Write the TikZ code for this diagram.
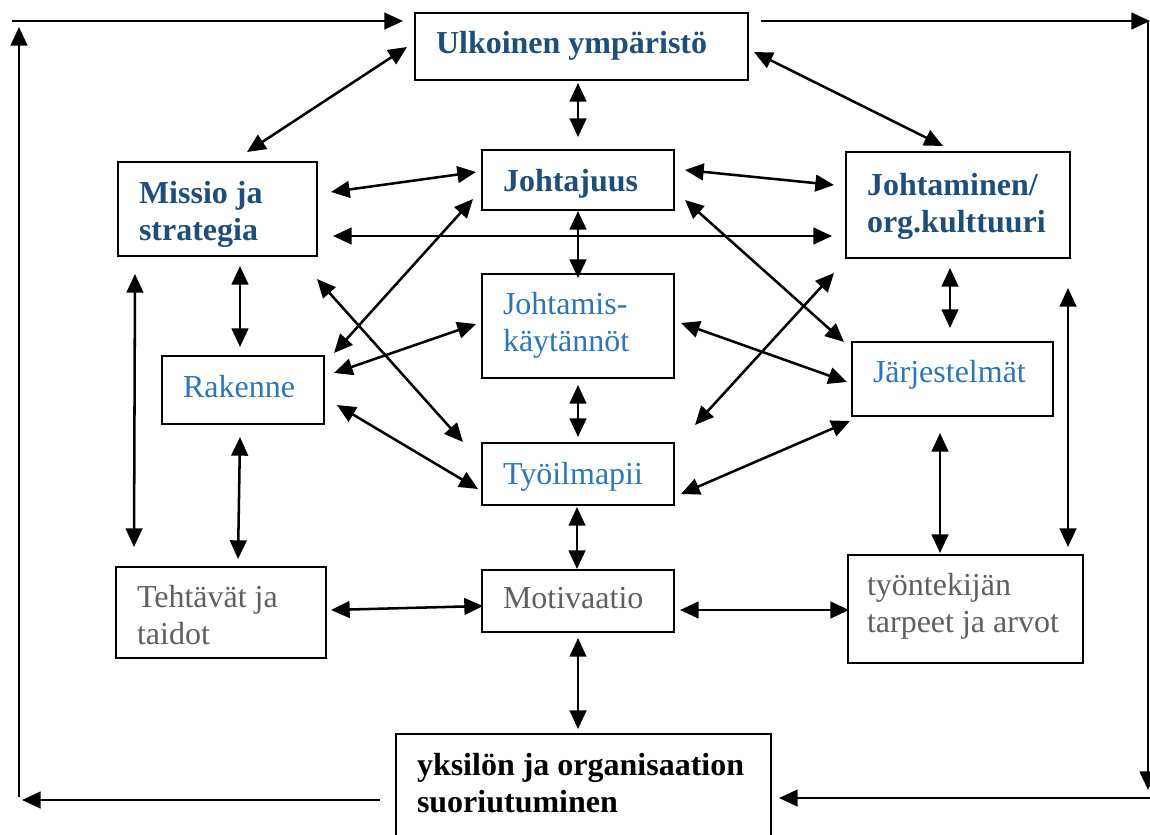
\documentclass[tikz,border=0pt]{standalone}
\usepackage{fontspec}
\setmainfont{Liberation Serif}
\usetikzlibrary{arrows.meta,calc}
\definecolor{dblue}{HTML}{1F4E79}
\definecolor{lblue}{HTML}{2E75B6}
\definecolor{tgray}{HTML}{5F5F5F}
\tikzset{
  box/.style={draw, line width=1.5pt, inner xsep=15.75pt, inner ysep=0pt, align=flush left,
    text height=16.8pt, text depth=6pt, font=\fontsize{24}{27.75}\selectfont},
  hd/.style={box, text=dblue, font=\fontsize{24}{27.75}\selectfont\bfseries},
  sub/.style={box, text=lblue},
  gr/.style={box, text=tgray},
  blk/.style={box, text=black, font=\fontsize{24}{27.75}\selectfont\bfseries},
  tip/.tip={Triangle[length=14pt,width=12.5pt]},
  dbl/.style={line width=1.9pt, tip-tip},
  sgl/.style={line width=1.9pt, -tip},
}
\begin{document}
\begin{tikzpicture}[x=0.75pt,y=-0.75pt]
\useasboundingbox (0,0) rectangle (1150,835);
\clip (0,0) rectangle (1150,835);

% boxes
\node[hd, minimum height=50.25pt, text width=218.25pt] (ulk) at (581.5,46.5) {Ulkoinen ympäristö};
\node[hd, minimum height=70.5pt, text width=117.75pt, text height=15pt, text depth=24pt] (miss) at (217.5,209) {Missio ja\\strategia};
\node[hd, minimum height=45pt, text width=112.5pt, text height=22.5pt] (joht) at (578,180) {Johtajuus};
\node[hd, minimum height=79.5pt, text width=136.5pt, text height=15pt, text depth=29.25pt] (jorg) at (958,205) {Johtaminen/\\org.kulttuuri};
\node[sub, minimum height=78pt, text width=112.5pt, text height=15pt, text depth=33pt] (jkay) at (578,326) {Johtamis-\\käytännöt};
\node[sub, minimum height=51pt, text width=90pt] (rak) at (243,390) {Rakenne};
\node[sub, minimum height=55.5pt, text width=119.25pt, text height=10.5pt] (jarj) at (952.5,379) {Järjestelmät};
\node[sub, minimum height=46.5pt, text width=112.5pt, text height=21pt] (tyoi) at (578,474) {Työilmapii};
\node[gr, minimum height=68.25pt, text width=126pt, text height=15pt, text depth=23.25pt] (teht) at (221,612.5) {Tehtävät ja\\taidot};
\node[gr, minimum height=46.5pt, text width=112.5pt] (moti) at (578,601) {Motivaatio};
\node[gr, minimum height=81pt, inner xsep=14.25pt, text width=147.75pt, text height=15pt, text depth=36pt] (tyon) at (965.5,609) {työntekijän\\tarpeet ja arvot};
\node[blk, minimum height=79.5pt, text width=249.75pt, text height=15pt, text depth=33pt] (yks) at (583.5,787) {yksilön ja organisaation\\suoriutuminen};

% double arrows
\draw[dbl] ($(ulk)+(-174.5,0.5)$) -- ($(miss)+(29.5,-57)$);
\draw[dbl] ($(ulk)+(-3.5,36.5)$) -- ($(joht)+(0,-43)$);
\draw[dbl] ($(ulk)+(172.5,5.5)$) -- ($(jorg)+(-15,-59)$);
\draw[dbl] ($(miss)+(113.5,-17)$) -- ($(joht)+(-102,-8)$);
\draw[dbl] ($(miss)+(115.5,27)$) -- ($(jorg)+(-126,31)$);
\draw[dbl] ($(joht)+(107,-10)$) -- ($(jorg)+(-124,-20)$);
\draw[dbl] ($(joht)+(0,31)$) -- ($(jkay)+(0,-48)$);
\draw[dbl] ($(miss)+(22.5,57)$) -- ($(rak)+(-3,-43)$);
\draw[dbl] ($(joht)+(-105,19)$) -- ($(rak)+(91,-37)$);
\draw[dbl] ($(miss)+(99.5,70)$) -- ($(tyoi)+(-115,-32)$);
\draw[dbl] ($(jkay)+(-102,-2)$) -- ($(rak)+(91,-17)$);
\draw[dbl] ($(joht)+(107,20)$) -- ($(jarj)+(-108.5,-37)$);
\draw[dbl] ($(jkay)+(103,-3)$) -- ($(jarj)+(-105.5,3)$);
\draw[dbl] ($(jorg)+(-124,68)$) -- ($(tyoi)+(117,-49)$);
\draw[dbl] ($(rak)+(94,15)$) -- ($(tyoi)+(-100,15)$);
\draw[dbl] ($(jarj)+(-102.5,42)$) -- ($(tyoi)+(103,20)$);
\draw[dbl] ($(jkay)+(0,59)$) -- ($(tyoi)+(0,-37)$);
\draw[dbl] ($(jorg)+(-8,63)$) -- ($(jarj)+(-2.5,-51)$);
\draw[dbl] ($(miss)+(-82.5,65)$) -- ($(teht)+(-87,-65.5)$);
\draw[dbl] ($(rak)+(-3,47)$) -- ($(teht)+(17,-53.5)$);
\draw[dbl] ($(tyoi)+(-1,33)$) -- ($(moti)+(-1,-32)$);
\draw[dbl] ($(jarj)+(-12.5,54)$) -- ($(tyon)+(-25.5,-56)$);
\draw[dbl] ($(jorg)+(110,83)$) -- ($(tyon)+(102.5,-62)$);
\draw[dbl] ($(teht)+(110,-2.5)$) -- ($(moti)+(-95,5)$);
\draw[dbl] ($(moti)+(102,9)$) -- ($(tyon)+(-116.5,1)$);
\draw[dbl] ($(moti)+(0,37)$) -- ($(yks)+(-5.5,-58)$);

% feedback loop
\coordinate (tl) at (12,21);
\coordinate (tr) at (1150,21);
\coordinate (rt) at (1148,21);
\coordinate (rb) at (1148,790);
\coordinate (br) at (1150,798);
\coordinate (bl) at (22,800);
\coordinate (lb) at (19,797);
\coordinate (lt) at (19,27);
\draw[sgl] (tl) -- ($(ulk)+(-178.5,-25.5)$);
\draw[sgl] ($(ulk)+(179.5,-25.5)$) -- (tr);
\draw[sgl] (rt) -- (rb);
\draw[sgl] (br) -- ($(yks)+(195.5,11)$);
\draw[sgl] ($(yks)+(-203.5,13)$) -- (bl);
\draw[sgl] (lb) -- (lt);
\end{tikzpicture}
\end{document}
